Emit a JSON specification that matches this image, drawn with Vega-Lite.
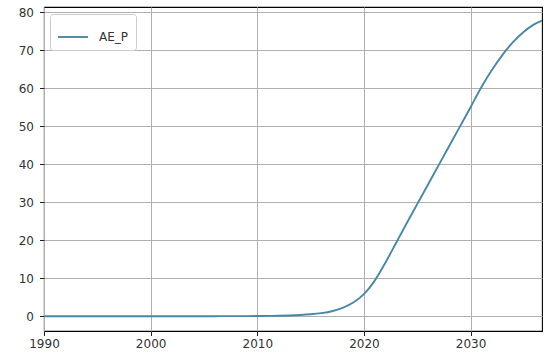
{
  "$schema": "https://vega.github.io/schema/vega-lite/v6.json",
  "autosize": {"type": "none"},
  "width": 498,
  "height": 324,
  "padding": {"left": 44, "top": 7, "right": 2, "bottom": 24},
  "background": "white",
  "config": {
    "font": "DejaVu Sans",
    "view": {"stroke": "black", "strokeWidth": 1.1},
    "axis": {
      "grid": true,
      "gridColor": "#b0b0b0",
      "gridWidth": 1,
      "domain": false,
      "tickColor": "#222222",
      "tickSize": 4.5,
      "tickWidth": 1,
      "labelFont": "DejaVu Sans",
      "labelFontSize": 12,
      "labelColor": "#333333",
      "labelPadding": 3,
      "title": null
    },
    "axisY": {"labelPadding": 6}
  },
  "data": {
    "values": [
      {"year": 1990, "value": 0}, {"year": 1991, "value": 0}, {"year": 1992, "value": 0},
      {"year": 1993, "value": 0}, {"year": 1994, "value": 0}, {"year": 1995, "value": 0},
      {"year": 1996, "value": 0}, {"year": 1997, "value": 0}, {"year": 1998, "value": 0},
      {"year": 1999, "value": 0}, {"year": 2000, "value": 0}, {"year": 2001, "value": 0},
      {"year": 2002, "value": 0}, {"year": 2003, "value": 0}, {"year": 2004, "value": 0},
      {"year": 2005, "value": 0}, {"year": 2006, "value": 0}, {"year": 2007, "value": 0.01},
      {"year": 2008, "value": 0.01}, {"year": 2009, "value": 0.02}, {"year": 2010, "value": 0.04},
      {"year": 2011, "value": 0.07}, {"year": 2012, "value": 0.12}, {"year": 2013, "value": 0.2},
      {"year": 2014, "value": 0.32}, {"year": 2015, "value": 0.5}, {"year": 2016, "value": 0.8},
      {"year": 2017, "value": 1.3}, {"year": 2018, "value": 2.2}, {"year": 2019, "value": 3.6},
      {"year": 2020, "value": 5.8}, {"year": 2021, "value": 9.3}, {"year": 2022, "value": 14.0},
      {"year": 2023, "value": 19.2}, {"year": 2024, "value": 24.4}, {"year": 2025, "value": 29.5},
      {"year": 2026, "value": 34.6}, {"year": 2027, "value": 39.7}, {"year": 2028, "value": 44.8},
      {"year": 2029, "value": 49.9}, {"year": 2030, "value": 55.0}, {"year": 2031, "value": 60.2},
      {"year": 2032, "value": 64.8}, {"year": 2033, "value": 68.8}, {"year": 2034, "value": 72.2},
      {"year": 2035, "value": 74.9}, {"year": 2036, "value": 76.9}, {"year": 2036.7, "value": 77.8}
    ]
  },
  "mark": {"type": "line", "strokeWidth": 1.9, "clip": true, "interpolate": "monotone"},
  "encoding": {
    "x": {
      "field": "year",
      "type": "quantitative",
      "scale": {"domain": [1990, 2036.7], "nice": false, "zero": false},
      "axis": {"values": [1990, 2000, 2010, 2020, 2030], "format": "d", "labelFlush": false}
    },
    "y": {
      "field": "value",
      "type": "quantitative",
      "scale": {"domain": [-3.9, 81.4], "nice": false, "zero": false},
      "axis": {"values": [0, 10, 20, 30, 40, 50, 60, 70, 80]}
    },
    "color": {
      "datum": "AE_P",
      "type": "nominal",
      "scale": {"range": ["#4a87a6"]},
      "legend": {
        "title": null,
        "orient": "none",
        "legendX": 6,
        "legendY": 7,
        "symbolType": "stroke",
        "symbolSize": 900,
        "symbolStrokeWidth": 1.9,
        "labelFontSize": 12,
        "labelFont": "DejaVu Sans",
        "labelColor": "#333333",
        "labelOffset": 10,
        "padding": 7,
        "strokeColor": "#cccccc",
        "fillColor": "white",
        "cornerRadius": 3
      }
    }
  }
}
